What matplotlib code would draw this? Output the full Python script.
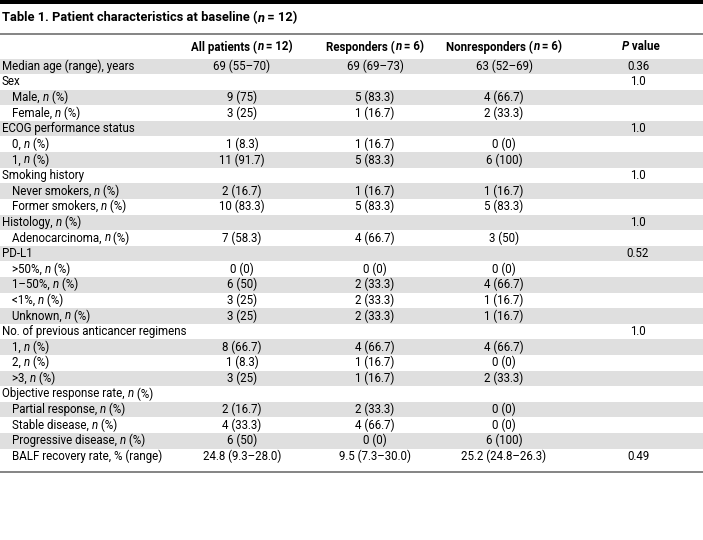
import matplotlib.pyplot as plt
import matplotlib.font_manager as fm

# pick a narrow sans if available
names = {f.name for f in fm.fontManager.ttflist}
base = 'Liberation Sans Narrow' if 'Liberation Sans Narrow' in names else 'Roboto'
plt.rcParams['font.family'] = [base, 'DejaVu Sans']

# "*" marks an italic letter (n or P)
title = "Table 1. Patient characteristics at baseline (*n* = 12)"
headers = ["All patients (*n* = 12)", "Responders (*n* = 6)",
           "Nonresponders (*n* = 6)", "*P* value"]

labels = ["Median age (range), years", "Sex", "Male, *n* (%)", "Female, *n* (%)",
          "ECOG performance status", "0, *n* (%)", "1, *n* (%)", "Smoking history",
          "Never smokers, *n* (%)", "Former smokers, *n* (%)", "Histology, *n* (%)",
          "Adenocarcinoma, *n* (%)", "PD-L1", ">50%, *n* (%)", "1–50%, *n* (%)",
          "<1%, *n* (%)", "Unknown, *n* (%)", "No. of previous anticancer regimens",
          "1, *n* (%)", "2, *n* (%)", ">3, *n* (%)", "Objective response rate, *n* (%)",
          "Partial response, *n* (%)", "Stable disease, *n* (%)",
          "Progressive disease, *n* (%)", "BALF recovery rate, % (range)"]
indent = [0, 0, 1, 1, 0, 1, 1, 0, 1, 1, 0, 1, 0, 1, 1, 1, 1, 0, 1, 1, 1, 0, 1, 1, 1, 1]
all_pts = ["69 (55–70)", "", "9 (75)", "3 (25)", "", "1 (8.3)", "11 (91.7)", "",
           "2 (16.7)", "10 (83.3)", "", "7 (58.3)", "", "0 (0)", "6 (50)", "3 (25)",
           "3 (25)", "", "8 (66.7)", "1 (8.3)", "3 (25)", "", "2 (16.7)", "4 (33.3)",
           "6 (50)", "24.8 (9.3–28.0)"]
responders = ["69 (69–73)", "", "5 (83.3)", "1 (16.7)", "", "1 (16.7)", "5 (83.3)", "",
              "1 (16.7)", "5 (83.3)", "", "4 (66.7)", "", "0 (0)", "2 (33.3)", "2 (33.3)",
              "2 (33.3)", "", "4 (66.7)", "1 (16.7)", "1 (16.7)", "", "2 (33.3)",
              "4 (66.7)", "0 (0)", "9.5 (7.3–30.0)"]
nonresponders = ["63 (52–69)", "", "4 (66.7)", "2 (33.3)", "", "0 (0)", "6 (100)", "",
                 "1 (16.7)", "5 (83.3)", "", "3 (50)", "", "0 (0)", "4 (66.7)", "1 (16.7)",
                 "1 (16.7)", "", "4 (66.7)", "0 (0)", "2 (33.3)", "", "0 (0)", "0 (0)",
                 "6 (100)", "25.2 (24.8–26.3)"]
p_values = ["0.36", "1.0", "", "", "1.0", "", "", "1.0", "", "", "1.0", "", "0.52", "",
            "", "", "", "1.0", "", "", "", "", "", "", "", "0.49"]

W, H = 703, 540
fig = plt.figure(figsize=(W / 100, H / 100), dpi=100)
ax = fig.add_axes([0, 0, 1, 1])
ax.set_xlim(0, W)
ax.set_ylim(H, 0)
ax.axis('off')
renderer = fig.canvas.get_renderer()


def rich_text(x, y, s, size, weight='normal', ha='left'):
    # draw text in pieces so italic letters can sit inside plain text
    parts = s.split('*')
    pieces = []
    for k, p in enumerate(parts):
        if p:
            t = ax.text(x, y, p, fontsize=size, fontweight=weight,
                        style='italic' if k % 2 else 'normal', va='center', ha='left')
            pieces.append(t)
    adv = [t.get_window_extent(renderer).width for t in pieces]
    total = sum(adv)
    cur = x - total / 2 if ha == 'center' else x
    for t, a in zip(pieces, adv):
        t.set_x(cur)
        cur += a


row_top = 58.5
row_h = 15.6
col_x = [242, 375, 504, 638]
fs = 8.3

# top black bar + title
ax.axhspan(0, 3.5, color='black', lw=0)
rich_text(2, 18, title, 9.3, weight='bold')
ax.axhline(33.5, color='#707070', lw=1.2)

for j, h in enumerate(headers):
    rich_text(col_x[j] + (3 if j == 3 else 0), 47, h, fs, weight='bold', ha='center')

columns = [all_pts, responders, nonresponders, p_values]
for i, lab in enumerate(labels):
    y0 = row_top + i * row_h
    yc = y0 + row_h / 2
    if i % 2 == 0:
        ax.axhspan(y0, y0 + row_h, color='#dfdfdf', lw=0)
    rich_text(2 + 10 * indent[i], yc, lab, fs)
    for j, col in enumerate(columns):
        if col[i]:
            ax.text(col_x[j], yc, col[i], fontsize=fs, va='center', ha='center')

ax.axhline(row_top + len(labels) * row_h + 8, color='#707070', lw=1.2)

fig.savefig('out.png', dpi=100)
